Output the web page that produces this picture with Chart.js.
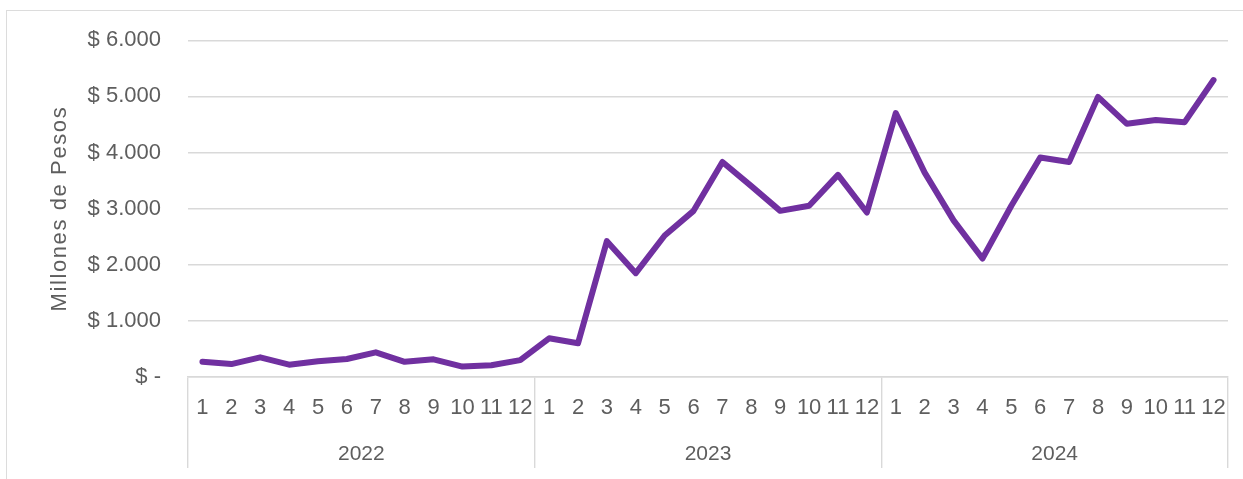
<!DOCTYPE html>
<html>
<head>
<meta charset="utf-8">
<script src="https://cdn.jsdelivr.net/npm/chart.js@4/dist/chart.umd.min.js"></script>
<style>
  html, body { margin: 0; padding: 0; background: #ffffff; overflow: hidden; }
  #wrap { position: relative; width: 1243px; height: 479px; overflow: hidden; background: #fff; }
  #frame { position: absolute; left: 6px; top: 10px; width: 1300px; height: 520px; border: 1px solid #dcdcdc; box-sizing: border-box; }
  #c { position: absolute; left: 0; top: 0; }
</style>
</head>
<body>
<div id="wrap">
  <div id="frame"></div>
  <canvas id="c" width="1243" height="479"></canvas>
</div>
<script>
// ---- data ----
const years = ['2022', '2023', '2024'];
const months = ['1','2','3','4','5','6','7','8','9','10','11','12'];
const values2022 = [270, 230, 350, 220, 280, 320, 440, 270, 315, 185, 210, 300];
const values2023 = [690, 600, 2420, 1850, 2520, 2960, 3830, 3400, 2960, 3050, 3600, 2930];
const values2024 = [4700, 3640, 2790, 2110, 3050, 3910, 3830, 4990, 4510, 4580, 4540, 5290];
const yTicks = [0, 1000, 2000, 3000, 4000, 5000, 6000];
const axisTitle = 'Millones de Pesos';

// ---- build ----
const labels = years.flatMap(() => months);
const series = [].concat(values2022, values2023, values2024);

const TEXT = '#5e5e5e';
const GRID = '#d9d9d9';
const FONT = 'Liberation Sans, Arial, sans-serif';

function fmt(v) {
  if (v === 0) return '$ -';
  return '$ ' + String(v).replace(/\B(?=(\d{3})+(?!\d))/g, '.');
}

// widen the rotated axis title a little (letter spacing)
const titleSpacing = {
  id: 'titleSpacing',
  afterLayout(chart) {
    const s = chart.scales.y;
    if (s._spacedTitle) return;
    const orig = s.drawTitle;
    s.drawTitle = function () {
      const ctx = this.ctx;
      ctx.save();
      try { ctx.letterSpacing = '1.6px'; } catch (e) {}
      orig.apply(this, arguments);
      ctx.restore();
    };
    s._spacedTitle = true;
  }
};

new Chart(document.getElementById('c'), {
  type: 'line',
  data: {
    labels: labels,
    datasets: [{
      data: series,
      borderColor: '#7030A0',
      borderWidth: 6,
      pointRadius: 0,
      pointHoverRadius: 0,
      tension: 0,
      borderJoinStyle: 'round',
      borderCapStyle: 'round',
      fill: false,
      xAxisID: 'x',
      yAxisID: 'y'
    }]
  },
  plugins: [titleSpacing],
  options: {
    responsive: false,
    animation: false,
    devicePixelRatio: 1,
    layout: { padding: { left: 0, top: 39, right: 15, bottom: 0 } },
    plugins: { legend: { display: false }, tooltip: { enabled: false } },
    scales: {
      y: {
        min: 0, max: 6000,
        afterBuildTicks: (s) => { s.ticks = yTicks.map(v => ({ value: v })); },
        afterFit: (s) => { s.width = 188; },
        grid: { color: GRID, lineWidth: 1.4, drawTicks: false },
        border: { display: false },
        ticks: {
          padding: 27,
          color: TEXT,
          font: { family: FONT, size: 22 },
          callback: (v) => fmt(v)
        },
        title: {
          display: true,
          text: axisTitle,
          color: TEXT,
          font: { family: FONT, size: 22 },
          padding: { top: 47, bottom: 0 }
        }
      },
      x: {
        type: 'category',
        offset: true,
        weight: 0,
        afterFit: (s) => { s.height = 58; },
        grid: {
          offset: true,
          drawOnChartArea: false,
          drawTicks: true,
          tickLength: 58,
          lineWidth: 1.4,
          color: (ctx) => (ctx.index === undefined || ctx.index % 12 === 0) ? GRID : 'rgba(0,0,0,0)'
        },
        border: { display: true, color: GRID, width: 1.4 },
        ticks: {
          autoSkip: false,
          maxRotation: 0,
          minRotation: 0,
          padding: -40,
          color: TEXT,
          font: { family: FONT, size: 22 }
        }
      },
      xYear: {
        type: 'category',
        labels: years,
        position: 'bottom',
        offset: true,
        weight: 1,
        afterFit: (s) => { s.height = 44; },
        grid: {
          offset: true,
          drawOnChartArea: false,
          drawTicks: true,
          tickLength: 33,
          lineWidth: 1.4,
          color: GRID
        },
        border: { display: false },
        ticks: {
          autoSkip: false,
          maxRotation: 0,
          padding: -26,
          color: TEXT,
          font: { family: FONT, size: 21 }
        }
      }
    }
  }
});
</script>
</body>
</html>
